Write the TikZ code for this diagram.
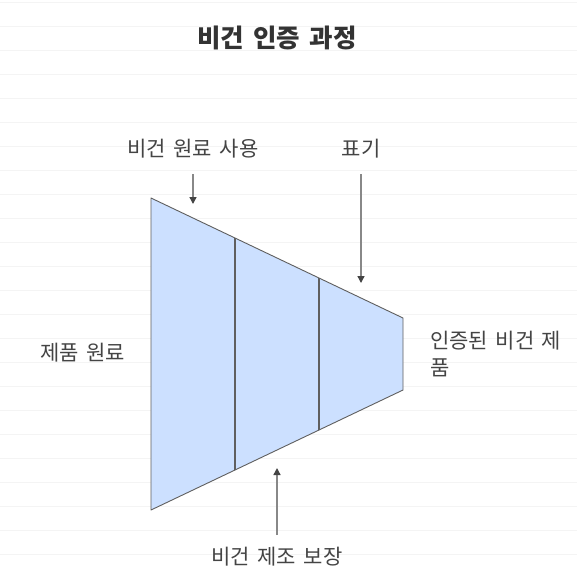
\documentclass[tikz,border=0pt]{standalone}
\usepackage{fontspec}
\setmainfont{Noto Sans CJK KR}[WordSpace=1.6]
\usetikzlibrary{arrows.meta}
\definecolor{bgline}{HTML}{F4F4F4}
\definecolor{funfill}{HTML}{CCE0FF}
\definecolor{funedge}{HTML}{5F5F5F}
\definecolor{lbl}{HTML}{444444}
\definecolor{ttl}{HTML}{333333}
\definecolor{arr}{HTML}{888888}
\definecolor{arrhead}{HTML}{444444}
\tikzset{
  lab/.style={text=lbl, inner sep=0pt, font=\fontsize{21}{27}\selectfont},
  ptr/.style={draw=arr, line width=1.4pt, -{Triangle[length=7pt,width=7pt,color=arrhead]}},
}
\begin{document}
\begin{tikzpicture}[x=1pt,y=-1pt]
\useasboundingbox (0,0) rectangle (577,576);
\fill[white] (0,0) rectangle (577,576);
\foreach \k in {0,...,23} {
  \draw[bgline, line width=1.5pt] (0,2.7+24*\k) -- (577,2.7+24*\k);
}
% title
\node[text=ttl, inner sep=0pt, font=\fontsize{25.5}{30}\bfseries\selectfont] (title) at (277,38) {비건 인증 과정};
% funnel
\fill[funfill] (151,198) -- (403,318) -- (403,390) -- (151,510) -- cycle;
\draw[funedge, line width=1.1pt] (235,238) -- (235,470);
\draw[funedge, line width=1.1pt] (319,278) -- (319,430);
\draw[funedge, line width=0.9pt, line join=round] (151,198) -- (403,318) -- (403,390) -- (151,510) -- cycle;
% labels
\node[lab] (raw) at (193,149) {비건 원료 사용};
\node[lab] (mark) at (361,149) {표기};
\node[lab] (prod) at (82.5,353) {제품 원료};
\node[lab, anchor=north west, align=left] (cert) at (430,331) {인증된 비건 제\\품};
\node[lab] (mfg) at (277,557) {비건 제조 보장};
% arrow endpoints
\coordinate (a1s) at (193,174);
\coordinate (a1e) at (193,204);
\coordinate (a2s) at (361,174);
\coordinate (a2e) at (361,283);
\coordinate (a3s) at (277,535);
\coordinate (a3e) at (277,468);
\draw[ptr] (a1s) -- (a1e);
\draw[ptr] (a2s) -- (a2e);
\draw[ptr] (a3s) -- (a3e);
\end{tikzpicture}
\end{document}
